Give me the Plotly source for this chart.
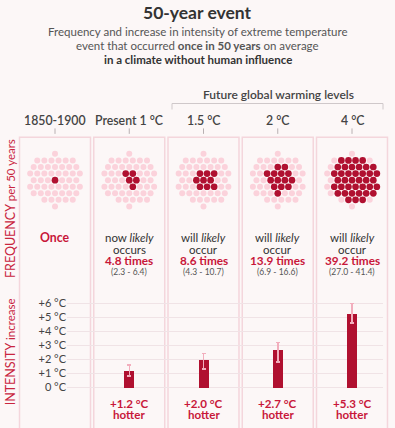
import numpy as np
import plotly.graph_objects as go

# ---------------- data ----------------
columns = ["1850-1900", "Present 1 °C", "1.5 °C", "2 °C", "4 °C"]
years_window = 50
occurrences = [1, 4.8, 8.6, 13.9, 39.2]
occ_low = [None, 2.3, 4.3, 6.9, 27.0]
occ_high = [None, 6.4, 10.7, 16.6, 41.4]
freq_lead = ["", "now <i>likely</i>", "will <i>likely</i>", "will <i>likely</i>", "will <i>likely</i>"]
freq_verb = ["", "occurs", "occur", "occur", "occur"]
intensity = [None, 1.2, 2.0, 2.7, 5.3]
int_low = [None, 0.8, 1.3, 1.8, 4.6]
int_high = [None, 1.6, 2.4, 3.2, 6.0]
tick_vals = [0, 1, 2, 3, 4, 5, 6]
tick_labels = ["0 °C", "+1 °C", "+2 °C", "+3 °C", "+4 °C", "+5 °C", "+6 °C"]

# ---------------- style ----------------
W, H = 395, 428
BG = "#fcf7f7"
DARK = "#b01030"
PINK = "#fbd2db"
RED_TXT = "#c8173a"
GREY = "#444444"
FONT = "Lato, 'Open Sans', sans-serif"
COL_PX = 74.25          # pixel distance between columns
FIRST_PX = 55.0         # pixel centre of first column
SP = 7.1                # dot spacing px (horizontal)
ROW = 0.93              # row spacing factor


def py(p):
    return 1 - p / H


# hexagonal layout for the 50 "years"
cells = []
for r in range(-7, 8):
    for c in range(-7, 8):
        x = c + 0.5 * (r % 2)
        y = r * ROW
        cells.append((x, y))
cells.sort(key=lambda p: (round(np.hypot(p[0], p[1]), 4), np.arctan2(p[1], p[0])))
cells = cells[:years_window]

pink_x, pink_y, dark_x, dark_y = [], [], [], []
for i, occ in enumerate(occurrences):
    n_dark = int(round(occ))
    order = sorted(range(len(cells)),
                   key=lambda k: np.hypot(cells[k][0] - 0.35, cells[k][1] + 0.15))
    dark_set = set(order[:n_dark])
    for k, (cx, cy) in enumerate(cells):
        xx = i + cx * SP / COL_PX
        yy = cy * SP
        if k in dark_set:
            dark_x.append(xx); dark_y.append(yy)
        else:
            pink_x.append(xx); pink_y.append(yy)

fig = go.Figure()
fig.add_trace(go.Scatter(x=pink_x, y=pink_y, mode="markers",
                         marker=dict(size=6.0, color=PINK), hoverinfo="skip",
                         xaxis="x", yaxis="y", showlegend=False))
fig.add_trace(go.Scatter(x=dark_x, y=dark_y, mode="markers",
                         marker=dict(size=6.7, color=DARK), hoverinfo="skip",
                         xaxis="x", yaxis="y", showlegend=False))

# intensity bars
bx = [c for c, v in zip(columns, intensity) if v is not None]
bv = [v for v in intensity if v is not None]
plus = [h - v for h, v in zip(int_high, intensity) if v is not None]
minus = [v - l for l, v in zip(int_low, intensity) if v is not None]
fig.add_trace(go.Bar(x=bx, y=bv, width=10 / COL_PX, marker=dict(color=DARK, line=dict(width=0)),
                     error_y=dict(type="data", symmetric=False, array=plus, arrayminus=minus,
                                  color="#f2aebd", thickness=1.5, width=2),
                     xaxis="x2", yaxis="y2", showlegend=False, hoverinfo="skip"))

x2_lo = (67 - FIRST_PX) / COL_PX
x2_hi = x2_lo + (383 - 67) / COL_PX

fig.update_layout(
    width=W, height=H, autosize=False,
    margin=dict(l=0, r=0, t=0, b=0),
    paper_bgcolor=BG, plot_bgcolor="rgba(0,0,0,0)",
    font=dict(family=FONT, color=GREY),
    xaxis=dict(domain=[0, 1], range=[-FIRST_PX / COL_PX, (W - FIRST_PX) / COL_PX],
               visible=False, fixedrange=True),
    yaxis=dict(domain=[py(222), py(140)], range=[41, -41], visible=False, fixedrange=True),
    xaxis2=dict(domain=[67 / W, 383 / W], type="category", categoryorder="array",
                categoryarray=columns, range=[x2_lo, x2_hi], anchor="y2",
                showticklabels=False, showgrid=False, zeroline=False, showline=False),
    yaxis2=dict(domain=[py(393.2), py(298)], range=[-0.3, 6.5], anchor="x2",
                tickvals=tick_vals, ticktext=tick_labels, showgrid=True,
                gridcolor="#f0e3e6", gridwidth=1, zeroline=False, showline=False,
                ticks="", tickfont=dict(size=11, color=GREY, family=FONT)),
    bargap=0,
)

shapes = []
# panels
for i in range(len(columns)):
    shapes.append(dict(type="rect", xref="x", yref="paper", x0=i - 0.478, x1=i + 0.478,
                       y0=py(138), y1=py(440), line=dict(color="#f4d6dc", width=1.5),
                       fillcolor="rgba(0,0,0,0)", layer="below"))
    shapes.append(dict(type="line", xref="x", yref="paper", x0=i, x1=i,
                       y0=py(129), y1=py(134.5), line=dict(color="#b8b0b2", width=1)))
# bracket for future levels
shapes.append(dict(type="path", xref="paper", yref="paper",
                   path=f"M {172/W},{py(110)} L {172/W},{py(104)} L {383/W},{py(104)} L {383/W},{py(110)}",
                   line=dict(color="#cfc8ca", width=1)))
fig.update_layout(shapes=shapes)

ann = []


def add(text, x, y, size, color=GREY, xref="x", bold=False, angle=0, weight=None):
    ann.append(dict(text=text, x=x, y=py(y), xref=xref, yref="paper",
                    showarrow=False, xanchor="center", yanchor="middle", textangle=angle,
                    font=dict(size=size, color=color, family=FONT,
                              weight=weight if weight else ("bold" if bold else "normal"))))


# title block
add("50-year event", 0.5, 13, 17.5, "#333333", xref="paper", bold=True)
add("Frequency and increase in intensity of extreme temperature", 0.5, 31.5, 11.5, "#555555", xref="paper")
add("event that occurred <b>once in 50 years</b> on average", 0.5, 45.5, 11.5, "#555555", xref="paper")
add("<b>in a climate without human influence</b>", 0.5, 60, 11.5, "#333333", xref="paper")
add("Future global warming levels", 278 / W, 95, 12, GREY, xref="paper", weight=600)

# column headers
for i, c in enumerate(columns):
    add(c, i, 121, 12.3, GREY, weight=600)

# left side labels
add("FREQUENCY <span style='font-size:11.5px'>per 50 years</span>", 10 / W, 210, 12.5, "#c9253f",
    xref="paper", angle=-90)
add("INTENSITY <span style='font-size:11.5px'>increase</span>", 10 / W, 354, 12.5, "#c9253f",
    xref="paper", angle=-90)

# frequency texts
for i in range(len(columns)):
    if occ_low[i] is None:
        add("Once", i, 238.5, 12.3, RED_TXT, bold=True)
        continue
    add(freq_lead[i], i, 239, 11.5, "#333333")
    add(freq_verb[i], i, 250.5, 11.5, "#333333")
    add(f"{occurrences[i]:.1f} times", i, 262, 11.8, RED_TXT, bold=True)
    add(f"({occ_low[i]:.1f} - {occ_high[i]:.1f})", i, 273, 8.5, "#555555")

# intensity texts
for i in range(len(columns)):
    if intensity[i] is None:
        continue
    add(f"+{intensity[i]:.1f} °C", i, 405, 11.6, RED_TXT, bold=True)
    add("hotter", i, 416.5, 11.6, RED_TXT, bold=True)

fig.update_layout(annotations=ann)
fig.write_html("out.html", config={"displayModeBar": False},
               post_script="document.body.style.margin='0';document.body.style.padding='0';"
                           "document.body.style.background='" + BG + "';")
